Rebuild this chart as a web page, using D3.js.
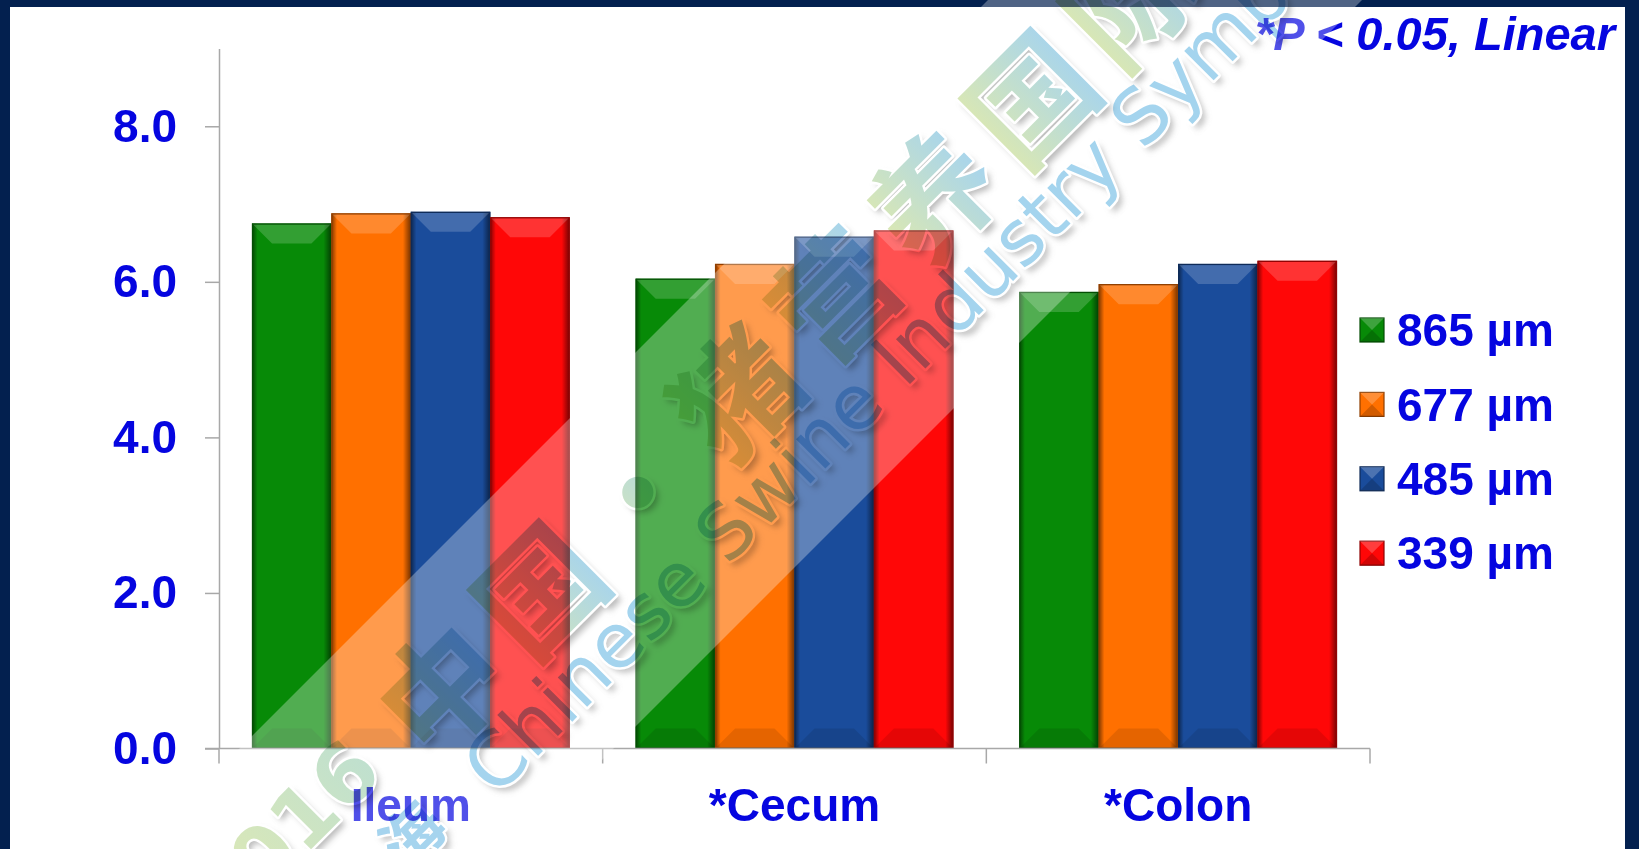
<!DOCTYPE html>
<html>
<head>
<meta charset="utf-8">
<script src="https://cdn.jsdelivr.net/npm/d3@7"></script>
<style>
  html, body { margin: 0; padding: 0; background: #ffffff; }
  svg { display: block; }
</style>
</head>
<body>
<svg id="chart" width="1639" height="849"></svg>
<script>
// ---- data ----
const categories = ["Ileum", "*Cecum", "*Colon"];
const seriesNames = ["865 µm", "677 µm", "485 µm", "339 µm"];
const seriesColors = ["#078a07", "#ff7000", "#1a4c9b", "#ff0707"];
const ileumValues = [6.75, 6.88, 6.90, 6.83];
const cecumValues = [6.04, 6.23, 6.58, 6.66];
const colonValues = [5.87, 5.97, 6.23, 6.27];
const yTicks = [0, 2, 4, 6, 8];
const noteText = "*P < 0.05, Linear";

const table = categories.map((c, i) => ({
  category: c,
  values: [ileumValues, cecumValues, colonValues][i]
}));

// ---- layout ----
const W = 1639, H = 849;
const plotLeft = 219, plotRight = 1370, plotTop = 48.5, plotBottom = 748.5;
const textBlue = "#0505e0";
const axisGrey = "#a8a8a8";
const labelFont = "'Liberation Sans', Arial, Helvetica, sans-serif";

const svg = d3.select("#chart");
const defs = svg.append("defs");

// frame
svg.append("rect").attr("width", W).attr("height", H).attr("fill", "#03204f");
svg.append("rect").attr("x", 10).attr("y", 7).attr("width", 1615).attr("height", H - 7).attr("fill", "#ffffff");

// shading for the bevelled bars
const side = defs.append("linearGradient").attr("id", "sideShade")
  .attr("x1", 0).attr("y1", 0).attr("x2", 1).attr("y2", 0);
[[0, 0.5], [0.07, 0], [0.9, 0], [1, 0.55]].forEach(([o, a]) =>
  side.append("stop").attr("offset", o).attr("stop-color", "#000").attr("stop-opacity", a));

const wmGrad = defs.append("linearGradient").attr("id", "wmGrad")
  .attr("x1", 0).attr("y1", 0).attr("x2", 1).attr("y2", 0);
wmGrad.append("stop").attr("offset", 0).attr("stop-color", "#dbe8b2");
wmGrad.append("stop").attr("offset", 1).attr("stop-color", "#a6d4ee");

const yearGrad = defs.append("linearGradient").attr("id", "yearGrad")
  .attr("x1", 0).attr("y1", 0).attr("x2", 1).attr("y2", 0);
yearGrad.append("stop").attr("offset", 0).attr("stop-color", "#e2eab0");
yearGrad.append("stop").attr("offset", 1).attr("stop-color", "#bfe0cf");

defs.append("filter").attr("id", "softShadow")
  .attr("x", "-20%").attr("y", "-20%").attr("width", "140%").attr("height", "140%")
  .append("feGaussianBlur").attr("stdDeviation", 3);

// ---- scales ----
const y = d3.scaleLinear().domain([0, 9]).range([plotBottom, plotTop]);
const x0 = d3.scaleBand().domain(categories).range([plotLeft, plotRight]);
const bw = x0.bandwidth();
const x1 = d3.scaleBand().domain(seriesNames).range([bw * 0.086, bw * 0.914]);
const color = d3.scaleOrdinal().domain(seriesNames).range(seriesColors);

// ---- bars ----
const plot = svg.append("g");
const bevel = 20;
const groups = plot.selectAll("g.cat").data(table).join("g")
  .attr("class", "cat")
  .attr("transform", d => `translate(${x0(d.category)},0)`);

groups.selectAll("g.bar")
  .data(d => d.values.map((v, i) => ({ series: seriesNames[i], value: v })))
  .join("g").attr("class", "bar")
  .each(function (d) {
    const g = d3.select(this);
    const x = x1(d.series), w = x1.bandwidth();
    const yt = y(d.value), h = y(0) - yt;
    const b = Math.min(bevel, h / 2, w / 2);
    const c = color(d.series);
    g.append("rect").attr("x", x).attr("y", yt).attr("width", w).attr("height", h).attr("fill", c);
    g.append("rect").attr("x", x).attr("y", yt).attr("width", w).attr("height", h).attr("fill", "url(#sideShade)");
    g.append("path")
      .attr("d", `M${x},${yt}H${x + w}L${x + w - b},${yt + b}H${x + b}Z`)
      .attr("fill", "#fff").attr("fill-opacity", 0.18);
    g.append("path")
      .attr("d", `M${x},${yt + h}H${x + w}L${x + w - b},${yt + h - b}H${x + b}Z`)
      .attr("fill", "#000").attr("fill-opacity", 0.1);
    g.append("rect").attr("x", x + 0.5).attr("y", yt + 0.5).attr("width", w - 1).attr("height", h - 1)
      .attr("fill", "none").attr("stroke", d3.color(c).darker(1.6)).attr("stroke-width", 1.3);
  });

// ---- axes ----
const yAxis = d3.axisLeft(y).tickValues(yTicks).tickFormat(d3.format(".1f"))
  .tickSize(14).tickSizeOuter(0).tickPadding(28);
const gy = svg.append("g").attr("transform", `translate(${plotLeft},0)`).call(yAxis);
gy.select(".domain").attr("stroke", axisGrey).attr("stroke-width", 1.5);
gy.selectAll(".tick line").attr("stroke", axisGrey).attr("stroke-width", 1.5);
gy.selectAll(".tick text").attr("fill", textBlue).attr("font-size", 46)
  .attr("font-weight", "bold").attr("font-family", labelFont);

const xAxis = d3.axisBottom(x0).tickSize(0).tickPadding(40);
const gx = svg.append("g").attr("transform", `translate(0,${y(0)})`).call(xAxis);
gx.select(".domain").remove();
gx.selectAll(".tick text").attr("fill", textBlue).attr("font-size", 46)
  .attr("font-weight", "bold").attr("font-family", labelFont);
gx.append("line").attr("x1", plotLeft - 14).attr("x2", plotRight).attr("y1", 0).attr("y2", 0)
  .attr("stroke", axisGrey).attr("stroke-width", 1.5);
gx.selectAll("line.sep").data(categories.map(c => x0(c)).concat([plotRight]))
  .join("line").attr("class", "sep")
  .attr("x1", d => d).attr("x2", d => d).attr("y1", 0).attr("y2", 15)
  .attr("stroke", axisGrey).attr("stroke-width", 1.5);

// ---- legend ----
const legend = svg.append("g").attr("transform", "translate(1360,330)");
const rows = legend.selectAll("g").data(seriesNames).join("g")
  .attr("transform", (d, i) => `translate(0,${i * 74.4})`);
rows.append("rect").attr("x", 0).attr("y", -12).attr("width", 24).attr("height", 24)
  .attr("fill", d => color(d)).attr("stroke", d => d3.color(color(d)).darker(1.6)).attr("stroke-width", 1.2);
rows.append("path").attr("d", "M0,-12H24L12,0Z").attr("fill", "#fff").attr("fill-opacity", 0.22);
rows.append("path").attr("d", "M0,12H24L12,0Z").attr("fill", "#000").attr("fill-opacity", 0.18);
rows.append("text").attr("x", 37).attr("dy", "0.35em").text(d => d)
  .attr("fill", textBlue).attr("font-size", 46).attr("font-weight", "bold").attr("font-family", labelFont);

// ---- significance note ----
svg.append("text").attr("x", 1615).attr("y", 50).attr("text-anchor", "end")
  .attr("fill", textBlue).attr("font-size", 47).attr("font-weight", "bold")
  .attr("font-style", "italic").attr("font-family", labelFont).text(noteText);

// ---- symposium watermark ----
const bandNear = 988, bandFar = 1362;
const wm = svg.append("g").attr("class", "watermark");
wm.append("polygon")
  .attr("points", [[bandNear - H, H], [bandNear, 0], [bandFar, 0], [bandFar - H, H]].map(p => p.join(",")).join(" "))
  .attr("fill", "#ffffff").attr("fill-opacity", 0.3);

const wmLayer = wm.append("g").attr("transform", "rotate(-45)");
function wmText(str, x, yv, opts) {
  const g = wmLayer.append("g").style("mix-blend-mode", "multiply");
  const base = t => t.attr("x", x).attr("y", yv)
    .attr("text-anchor", opts.anchor || "middle")
    .attr("dominant-baseline", opts.baseline || "central")
    .attr("font-family", opts.font).attr("font-size", opts.size)
    .attr("font-weight", opts.weight || "normal").text(str);
  base(g.append("text")).attr("transform", "translate(0,7)")
    .attr("fill", "#808080").attr("fill-opacity", 0.55).attr("filter", "url(#softShadow)");
  base(g.append("text")).attr("fill", opts.fill)
    .attr("stroke", "#ffffff").attr("stroke-width", 5).attr("stroke-linejoin", "round")
    .style("paint-order", "stroke");
}

const cjkFont = "'Noto Sans CJK SC', sans-serif";
const titleChars = ["中", "国", "•", "猪", "营", "养", "国", "际"];
titleChars.forEach((ch, i) =>
  wmText(ch, -175 + i * 139, 792, { font: cjkFont, size: 122, weight: 700, fill: "url(#wmGrad)" }));
wmText("2016", -276, 792, { font: "'DejaVu Sans', sans-serif", size: 82, weight: 700,
  fill: "url(#yearGrad)", anchor: "end" });
wmText("海", -268, 878, { font: cjkFont, size: 62, weight: 700, fill: "#a6d4ee", anchor: "end" });
wmText("Chinese Swine Industry Symposium", -214, 915, { font: "'DejaVu Sans', sans-serif", size: 76,
  fill: "#a4d4ee", anchor: "start", baseline: "alphabetic" });
</script>
</body>
</html>
